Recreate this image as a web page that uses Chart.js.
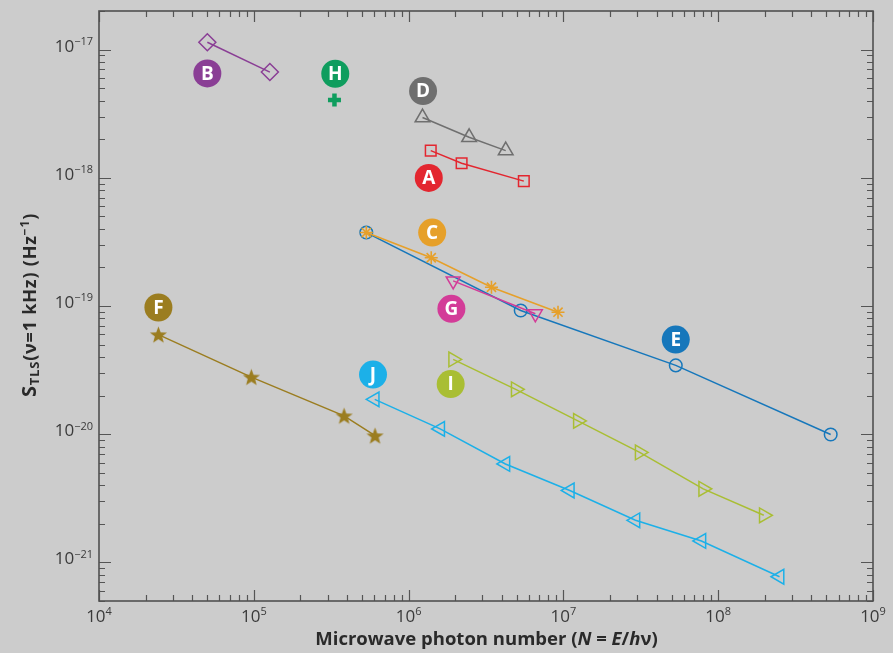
<!DOCTYPE html>
<html>
<head>
<meta charset="utf-8">
<script src="https://cdn.jsdelivr.net/npm/chart.js@4/dist/chart.umd.min.js"></script>
<style>
  html, body { margin: 0; padding: 0; background: #cccccc; }
  #wrap { width: 893px; height: 653px; }
</style>
</head>
<body>
<div id="wrap"><canvas id="c" width="893" height="653"></canvas></div>
<script>
// photon number N (x) and S_TLS (y) for each sample
const aN = [1.39e6, 2.20e6, 5.55e6];
const aS = [1.63e-18, 1.30e-18, 9.42e-19];
const bN = [5.01e4, 1.27e5];
const bS = [1.14e-17, 6.68e-18];
const cN = [5.33e5, 1.40e6, 3.43e6, 9.23e6];
const cS = [3.74e-19, 2.38e-19, 1.40e-19, 8.95e-20];
const dN = [1.23e6, 2.46e6, 4.24e6];
const dS = [2.95e-18, 2.07e-18, 1.63e-18];
const eN = [5.33e5, 5.30e6, 5.32e7, 5.33e8];
const eS = [3.74e-19, 9.23e-20, 3.44e-20, 9.95e-21];
const fN = [2.42e4, 9.64e4, 3.83e5, 6.07e5];
const fS = [5.98e-20, 2.79e-20, 1.39e-20, 9.73e-21];
const gN = [1.94e6, 6.59e6];
const gS = [1.57e-19, 8.69e-20];
const hN = [3.32e5];
const hS = [4.05e-18];
const iN = [1.94e6, 4.92e6, 1.24e7, 3.11e7, 8.00e7, 1.97e8];
const iS = [3.83e-20, 2.24e-20, 1.27e-20, 7.21e-21, 3.75e-21, 2.33e-21];
const jN = [6.04e5, 1.60e6, 4.22e6, 1.10e7, 2.92e7, 7.79e7, 2.49e8];
const jS = [1.87e-20, 1.10e-20, 5.86e-21, 3.64e-21, 2.13e-21, 1.47e-21, 7.73e-22];

// letter badges next to each series
const labels = ['A', 'B', 'C', 'D', 'E', 'F', 'G', 'H', 'I', 'J'];
const labelN = [1.35e6, 5.01e4, 1.42e6, 1.24e6, 5.32e7, 2.42e4, 1.89e6, 3.36e5, 1.87e6, 5.89e5];
const labelS = [9.98e-19, 6.52e-18, 3.74e-19, 4.75e-18, 5.47e-20, 9.73e-20, 9.51e-20, 6.48e-18, 2.46e-20, 2.92e-20];

const xTicks = [1e4, 1e5, 1e6, 1e7, 1e8, 1e9];
const xTickExp = ['4', '5', '6', '7', '8', '9'];
const yTicks = [1e-17, 1e-18, 1e-19, 1e-20, 1e-21];
const yTickExp = ['\u221217', '\u221218', '\u221219', '\u221220', '\u221221'];

const colors = {
  A: '#e3262f', B: '#8a3e95', C: '#e6a02a', D: '#6f6f6f', E: '#1677bb',
  F: '#9b7d20', G: '#d33c98', H: '#0f9d5e', I: '#a9be33', J: '#1cb0e8'
};

function pts(xs, ys) {
  return xs.map((x, k) => ({ x: x, y: ys[k] }));
}

// filled five point star for F
function starImage(col) {
  let cv = document.createElement('canvas');
  cv.width = 19; cv.height = 19;
  let g = cv.getContext('2d');
  g.fillStyle = col;
  g.beginPath();
  for (let k = 0; k < 10; k++) {
    let r = k % 2 == 0 ? 9 : 3.8;
    let a = -Math.PI / 2 + k * Math.PI / 5;
    let px = 9.5 + r * Math.cos(a), py = 10.2 + r * Math.sin(a);
    if (k == 0) g.moveTo(px, py); else g.lineTo(px, py);
  }
  g.closePath();
  g.fill();
  return cv;
}

function series(key, xs, ys, style, radius, rot, width, fill) {
  return {
    label: key,
    data: pts(xs, ys),
    showLine: true,
    tension: 0,
    borderColor: colors[key],
    borderWidth: 1.5,
    pointStyle: style,
    pointRadius: radius,
    pointRotation: rot,
    pointBorderWidth: width,
    pointBorderColor: colors[key],
    pointBackgroundColor: fill ? colors[key] : 'rgba(0,0,0,0)'
  };
}

const datasets = [
  series('C', cN, cS, 'star', 6.5, 0, 1.6, false),
  series('G', gN, gS, 'triangle', 8, 180, 1.5, false),
  series('E', eN, eS, 'circle', 6.3, 0, 1.5, false),
  series('A', aN, aS, 'rect', 7.5, 0, 1.5, false),
  series('B', bN, bS, 'rectRot', 8.5, 0, 1.5, false),
  series('D', dN, dS, 'triangle', 8.5, 0, 1.5, false),
  series('F', fN, fS, starImage(colors.F), 9, 0, 1, true),
  series('H', hN, hS, 'cross', 6.5, 0, 4.5, false),
  series('I', iN, iS, 'triangle', 8.5, 90, 1.5, false),
  series('J', jN, jS, 'triangle', 8.5, -90, 1.5, false)
];

const FONT = '"Open Sans", "DejaVu Sans", sans-serif';

function drawParts(ctx, parts, x, y) {
  // parts: [text, font, dy]
  let cx = x;
  parts.forEach((p) => {
    ctx.font = p[1];
    ctx.fillText(p[0], cx, y + p[2]);
    cx += ctx.measureText(p[0]).width;
  });
}
function partsWidth(ctx, parts) {
  let w = 0;
  parts.forEach((p) => { ctx.font = p[1]; w += ctx.measureText(p[0]).width; });
  return w;
}

const framePlugin = {
  id: 'frame',
  beforeDraw(chart) {
    let ctx = chart.ctx;
    ctx.save();
    ctx.fillStyle = '#cccccc';
    ctx.fillRect(0, 0, chart.width, chart.height);
    ctx.restore();
  },
  afterDatasetsDraw(chart) {
    let ctx = chart.ctx;
    let xs = chart.scales.x, ys = chart.scales.y;
    let a = chart.chartArea;
    ctx.save();

    // tick marks, pointing inward on all four sides
    ctx.strokeStyle = '#555555';
    ctx.lineWidth = 1.2;
    ctx.beginPath();
    for (let e = 4; e <= 9; e++) {
      for (let m = 1; m <= 9; m++) {
        let v = m * Math.pow(10, e);
        if (v > xs.max * 1.0001) break;
        let px = Math.round(xs.getPixelForValue(v)) + 0.5;
        let len = m == 1 ? 11 : 6;
        ctx.moveTo(px, a.bottom); ctx.lineTo(px, a.bottom - len);
        ctx.moveTo(px, a.top); ctx.lineTo(px, a.top + len);
      }
    }
    for (let e = -22; e <= -17; e++) {
      for (let m = 1; m <= 9; m++) {
        let v = m * Math.pow(10, e);
        if (v < ys.min * 0.9999 || v > ys.max * 1.0001) continue;
        let py = Math.round(ys.getPixelForValue(v)) + 0.5;
        let len = m == 1 ? 12 : 6;
        ctx.moveTo(a.left, py); ctx.lineTo(a.left + len, py);
        ctx.moveTo(a.right, py); ctx.lineTo(a.right - len, py);
      }
    }
    ctx.stroke();

    ctx.lineWidth = 1.6;
    ctx.strokeStyle = '#505050';
    ctx.strokeRect(a.left, a.top, a.right - a.left, a.bottom - a.top);

    // tick labels with superscript exponents
    ctx.fillStyle = '#3a3a3a';
    ctx.textBaseline = 'alphabetic';
    ctx.textAlign = 'left';
    xTicks.forEach((v, k) => {
      let parts = [['10', '17px ' + FONT, 0], [xTickExp[k], '11px ' + FONT, -7]];
      let w = partsWidth(ctx, parts);
      let px = xs.getPixelForValue(v);
      drawParts(ctx, parts, px - w / 2, 622);
    });
    yTicks.forEach((v, k) => {
      let parts = [['10', '17px ' + FONT, 0], [yTickExp[k], '11px ' + FONT, -6.7]];
      let w = partsWidth(ctx, parts);
      let py = ys.getPixelForValue(v);
      drawParts(ctx, parts, a.left - 6 - w, py + 2);
    });

    // axis titles
    ctx.fillStyle = '#2a2a2a';
    let xt = [
      ['Microwave photon number (', 'bold 18.5px ' + FONT, 0],
      ['N', 'italic bold 18.5px ' + FONT, 0],
      [' = ', 'bold 18.5px ' + FONT, 0],
      ['E', 'italic bold 18.5px ' + FONT, 0],
      ['/', 'bold 18.5px ' + FONT, 0],
      ['h', 'italic bold 18.5px ' + FONT, 0],
      ['\u03bd)', 'bold 18.5px ' + FONT, 0]
    ];
    let xw = partsWidth(ctx, xt);
    drawParts(ctx, xt, 486.5 - xw / 2, 645);

    let yt = [
      ['S', 'bold 20px ' + FONT, 0],
      ['TLS', 'bold 13px ' + FONT, 3],
      ['(\u03bd=1 kHz) (Hz', 'bold 18px ' + FONT, 0],
      ['\u22121', 'bold 12px ' + FONT, -7.5],
      [')', 'bold 18px ' + FONT, 0]
    ];
    ctx.save();
    ctx.letterSpacing = '0.8px';
    let yw = partsWidth(ctx, yt);
    ctx.translate(36, 305);
    ctx.rotate(-Math.PI / 2);
    drawParts(ctx, yt, -yw / 2, 0);
    ctx.restore();

    // round letter badges
    labels.forEach((l, k) => {
      let px = xs.getPixelForValue(labelN[k]);
      let py = ys.getPixelForValue(labelS[k]);
      ctx.beginPath();
      ctx.fillStyle = colors[l];
      ctx.arc(px, py, 14, 0, Math.PI * 2);
      ctx.fill();
      ctx.fillStyle = '#ffffff';
      ctx.font = 'bold 19px ' + FONT;
      ctx.textAlign = 'center';
      ctx.textBaseline = 'middle';
      ctx.fillText(l, px, py + 1);
    });
    ctx.restore();
  }
};

new Chart(document.getElementById('c'), {
  type: 'scatter',
  data: { datasets: datasets },
  plugins: [framePlugin],
  options: {
    responsive: false,
    animation: false,
    devicePixelRatio: 1,
    layout: { padding: { top: 8, right: 20, left: 0, bottom: 0 } },
    plugins: { legend: { display: false }, tooltip: { enabled: false } },
    scales: {
      x: {
        type: 'logarithmic',
        min: 1e4,
        max: 1e9,
        grid: { display: false },
        border: { display: false },
        ticks: { display: false },
        afterFit: (s) => { s.height = 52; }
      },
      y: {
        type: 'logarithmic',
        min: 5.03e-22,
        max: 2.0e-17,
        grid: { display: false },
        border: { display: false },
        ticks: { display: false },
        afterFit: (s) => { s.width = 99; }
      }
    }
  }
});
</script>
</body>
</html>
